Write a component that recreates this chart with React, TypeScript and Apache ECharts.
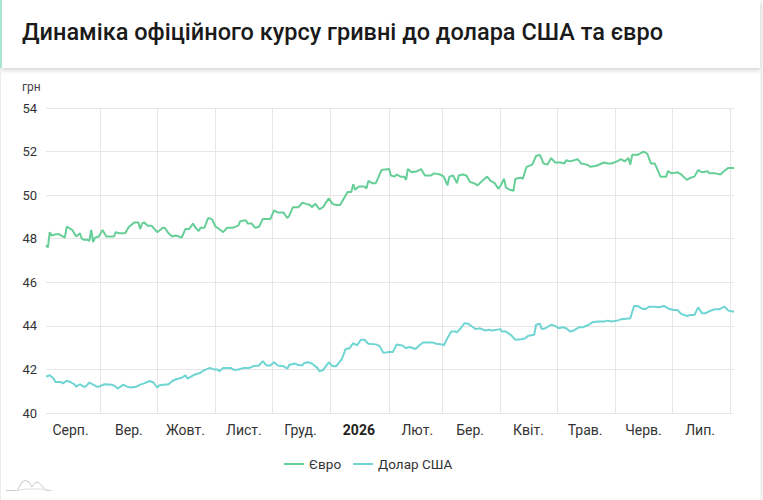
import React, { useEffect, useRef } from "react";
import * as echarts from "echarts";

const TITLE = "Динаміка офіційного курсу гривні до долара США та євро";
const UNIT = "грн";
const SERIES_NAMES = ["Євро", "Долар США"];
const BASE_DATE = Date.UTC(2025, 7, 1); // 1 Aug 2025
const DAY = 86400000;

// day offsets from BASE_DATE and values (UAH)
const eurDays = [2, 3, 4, 5, 7, 9, 12, 13, 15, 16, 18, 20, 21, 22, 24, 25, 26, 27, 28, 30, 32, 34, 36, 38, 39, 41, 44, 46, 49, 51, 52, 53, 54, 56, 58, 60, 61, 64, 65, 67, 69, 71, 74, 76, 78, 80, 81, 83, 84, 86, 88, 90, 92, 93, 96, 98, 101, 104, 105, 108, 109, 111, 113, 115, 117, 119, 121, 123, 125, 128, 130, 131, 133, 136, 138, 140, 142, 143, 145, 147, 149, 152, 154, 156, 158, 161, 162, 164, 165, 166, 168, 171, 172, 173, 175, 177, 180, 184, 185, 187, 188, 190, 192, 193, 194, 196, 199, 201, 203, 206, 208, 211, 213, 215, 216, 218, 220, 221, 223, 225, 227, 229, 231, 234, 236, 238, 240, 242, 243, 245, 246, 248, 250, 251, 254, 255, 256, 257, 260, 262, 264, 266, 268, 270, 272, 275, 277, 278, 280, 284, 286, 289, 291, 294, 298, 300, 302, 305, 307, 309, 311, 312, 313, 316, 317, 319, 321, 323, 325, 328, 331, 332, 334, 337, 339, 342, 344, 346, 348, 350, 353, 354, 357, 360, 361, 364, 367];
const eurValues = [47.7, 47.6, 48.3, 48.15, 48.2, 48.2, 48.05, 48.55, 48.45, 48.4, 48.1, 48.25, 48.0, 47.95, 47.95, 47.9, 48.4, 47.85, 48.05, 48.1, 48.4, 48.1, 48.1, 48.1, 48.3, 48.25, 48.25, 48.55, 48.75, 48.75, 48.45, 48.7, 48.75, 48.6, 48.6, 48.4, 48.3, 48.5, 48.5, 48.25, 48.1, 48.15, 48.05, 48.45, 48.45, 48.7, 48.55, 48.35, 48.5, 48.5, 48.95, 48.9, 48.55, 48.5, 48.3, 48.5, 48.5, 48.6, 48.8, 48.85, 48.7, 48.7, 48.5, 48.55, 48.9, 48.9, 48.9, 49.3, 49.2, 49.2, 48.95, 49.05, 49.45, 49.45, 49.65, 49.6, 49.55, 49.45, 49.6, 49.35, 49.45, 49.85, 49.6, 49.55, 49.55, 50.0, 50.15, 50.15, 50.5, 50.25, 50.4, 50.4, 50.3, 50.65, 50.55, 50.55, 51.15, 51.2, 50.9, 50.85, 50.95, 50.85, 50.85, 50.7, 51.2, 51.05, 51.1, 51.2, 50.9, 50.9, 51.0, 50.95, 50.85, 50.45, 50.85, 50.9, 50.55, 50.9, 50.95, 50.9, 50.6, 50.55, 50.45, 50.7, 50.85, 50.65, 50.55, 50.3, 50.4, 50.75, 50.35, 50.25, 50.2, 50.75, 50.8, 50.75, 51.05, 51.3, 51.4, 51.8, 51.85, 51.45, 51.4, 51.7, 51.5, 51.5, 51.45, 51.6, 51.55, 51.65, 51.45, 51.4, 51.3, 51.35, 51.5, 51.45, 51.45, 51.55, 51.65, 51.55, 51.7, 51.4, 51.85, 51.85, 51.9, 52.0, 51.9, 51.45, 51.45, 50.85, 50.85, 51.1, 51.0, 51.05, 50.95, 50.7, 50.8, 50.85, 51.15, 51.05, 51.1, 51.0, 51.0, 50.95, 51.05, 51.25, 51.25];

const usdDays = [2, 4, 6, 7, 10, 11, 13, 15, 17, 18, 20, 22, 23, 25, 27, 29, 30, 33, 37, 39, 40, 43, 45, 47, 50, 52, 54, 57, 59, 61, 62, 64, 67, 69, 71, 74, 76, 77, 79, 81, 84, 85, 87, 89, 91, 93, 94, 96, 100, 102, 104, 107, 110, 112, 115, 117, 119, 121, 123, 125, 128, 130, 131, 134, 136, 138, 139, 141, 143, 146, 147, 149, 152, 154, 156, 159, 161, 163, 165, 167, 169, 171, 173, 177, 179, 181, 184, 186, 188, 191, 193, 195, 198, 200, 202, 207, 209, 212, 213, 215, 217, 219, 220, 222, 224, 226, 228, 230, 232, 235, 237, 239, 243, 244, 246, 249, 251, 254, 256, 258, 261, 262, 264, 265, 267, 270, 272, 274, 276, 278, 280, 282, 285, 287, 290, 292, 295, 298, 300, 302, 305, 307, 310, 312, 314, 316, 318, 320, 322, 325, 327, 330, 332, 335, 337, 339, 342, 344, 346, 348, 350, 352, 354, 357, 359, 362, 364, 367];
const usdValues = [41.67, 41.73, 41.58, 41.42, 41.42, 41.36, 41.48, 41.42, 41.32, 41.21, 41.32, 41.21, 41.21, 41.4, 41.3, 41.21, 41.21, 41.32, 41.3, 41.21, 41.12, 41.3, 41.21, 41.17, 41.21, 41.3, 41.36, 41.47, 41.4, 41.17, 41.26, 41.3, 41.32, 41.47, 41.55, 41.62, 41.73, 41.58, 41.67, 41.77, 41.85, 41.92, 42.0, 42.07, 42.0, 42.0, 41.92, 42.07, 42.07, 41.97, 42.0, 42.07, 42.07, 42.15, 42.18, 42.38, 42.18, 42.18, 42.33, 42.18, 42.15, 42.03, 42.2, 42.27, 42.2, 42.18, 42.3, 42.33, 42.27, 42.07, 41.92, 41.97, 42.33, 42.15, 42.15, 42.48, 42.94, 42.97, 43.21, 43.1, 43.36, 43.36, 43.18, 43.15, 43.07, 42.76, 42.8, 42.8, 43.14, 43.1, 42.98, 43.03, 42.94, 43.1, 43.24, 43.24, 43.18, 43.15, 43.1, 43.44, 43.74, 43.74, 43.7, 43.89, 44.12, 44.1, 43.97, 43.85, 43.89, 43.79, 43.82, 43.79, 43.85, 43.74, 43.74, 43.55, 43.36, 43.39, 43.42, 43.55, 43.59, 44.05, 44.1, 43.85, 43.89, 44.05, 44.0, 43.89, 43.94, 43.89, 43.74, 43.79, 43.94, 43.94, 44.05, 44.17, 44.2, 44.2, 44.24, 44.2, 44.24, 44.3, 44.33, 44.35, 44.91, 44.91, 44.8, 44.76, 44.88, 44.88, 44.85, 44.91, 44.8, 44.73, 44.73, 44.55, 44.45, 44.5, 44.5, 44.85, 44.58, 44.58, 44.68, 44.76, 44.76, 44.88, 44.7, 44.65];

// month boundaries (year, month index) for grid lines and labels
const monthStarts: [number, number][] = [
  [2025, 8], [2025, 9], [2025, 10], [2025, 11], [2026, 0], [2026, 1],
  [2026, 2], [2026, 3], [2026, 4], [2026, 5], [2026, 6], [2026, 7],
];
const monthLabelDates: [number, number][] = [
  [2025, 7], [2025, 8], [2025, 9], [2025, 10], [2025, 11], [2026, 0],
  [2026, 1], [2026, 2], [2026, 3], [2026, 4], [2026, 5], [2026, 6],
];
const monthLabels = ["Серп.", "Вер.", "Жовт.", "Лист.", "Груд.", "2026", "Лют.", "Бер.", "Квіт.", "Трав.", "Черв.", "Лип."];

const X_MIN_DAY = 2;
const X_MAX_DAY = 367;
const Y_MIN = 40;
const Y_MAX = 54;
const Y_STEP = 2;

const COLORS = ["#66cf98", "#6fd5d3"];

export default function App() {
  const ref = useRef<HTMLDivElement>(null);
  useEffect(() => {
    if (!ref.current) return;
    const chart = echarts.init(ref.current, undefined, { renderer: "svg" });
    const dayOf = (y: number, m: number, d: number) => Math.round((Date.UTC(y, m, d) - BASE_DATE) / DAY);
    const eurData = eurDays.map((d, i) => [d, eurValues[i]]);
    const usdData = usdDays.map((d, i) => [d, usdValues[i]]);
    const tickVals = monthStarts.map(([y, m]) => dayOf(y, m, 1));
    const labelVals = monthLabelDates.map(([y, m]) => dayOf(y, m, 16));

    chart.setOption({
      animation: false,
      backgroundColor: "#ffffff",
      color: COLORS,
      graphic: [
        {
          type: "rect",
          shape: { x: 0, y: 0, width: 760, height: 68 },
          style: { fill: "#ffffff", shadowBlur: 5, shadowColor: "rgba(0,0,0,0.18)", shadowOffsetY: 2, shadowOffsetX: 1 },
          z: 1,
        },
        { type: "rect", shape: { x: 0, y: 0, width: 2, height: 68 }, style: { fill: "#a8e6cf" }, z: 2 },
        { type: "line", shape: { x1: 0.5, y1: 68, x2: 0.5, y2: 500 }, style: { stroke: "#ececec", lineWidth: 1 }, z: 1 },
        { type: "line", shape: { x1: 761.5, y1: 68, x2: 761.5, y2: 500 }, style: { stroke: "#ececec", lineWidth: 2 }, z: 1 },
        {
          type: "text",
          x: 22,
          y: 32,
          style: {
            text: TITLE,
            font: "500 23.5px Roboto",
            fill: "#1a1a1a",
            verticalAlign: "middle",
          },
          z: 3,
        },
        {
          type: "text",
          x: 22,
          y: 87,
          style: { text: UNIT, font: "12px Roboto", fill: "#444", verticalAlign: "middle" },
        },
        {
          type: "polyline",
          shape: {
            points: [[6, 490.5], [17, 490.5], [22, 482], [25, 480.5], [29, 482], [32, 487], [35, 482.5], [38, 482], [42, 486], [46, 490.5], [52, 490.5]],
          },
          style: { stroke: "#cccccc", lineWidth: 1, fill: null },
        },
        {
          type: "polyline",
          shape: { points: [[16, 490.5], [27, 489], [40, 489], [52, 490.5]] },
          style: { stroke: "#dddddd", lineWidth: 1, fill: null },
        },
      ],
      grid: { left: 46, right: 29, top: 108, bottom: 87, containLabel: false },
      legend: {
        left: 279,
        top: 452,
        icon: "rect",
        itemWidth: 20,
        itemHeight: 2,
        itemGap: 12,
        textStyle: { fontFamily: "Roboto", fontSize: 13.5, color: "#333" },
        data: SERIES_NAMES,
      },
      xAxis: {
        type: "value",
        min: X_MIN_DAY,
        max: X_MAX_DAY,
        axisLine: { show: false },
        axisTick: { show: false, customValues: tickVals },
        splitLine: { show: true, lineStyle: { color: "#e6e6e6", width: 1 } },
        axisLabel: {
          customValues: labelVals,
          margin: 10,
          fontFamily: "Roboto",
          fontSize: 14,
          color: "#333",
          formatter: (v: number) => {
            const idx = labelVals.indexOf(Math.round(v));
            const t = idx >= 0 ? monthLabels[idx] : "";
            return /^\d+$/.test(t) ? `{b|${t}}` : t;
          },
          rich: { b: { fontWeight: "bold", fontFamily: "Roboto", fontSize: 14, color: "#222" } },
        },
      },
      yAxis: {
        type: "value",
        min: Y_MIN,
        max: Y_MAX,
        interval: Y_STEP,
        axisLine: { show: false },
        axisTick: { show: false },
        splitLine: { lineStyle: { color: "#e6e6e6", width: 1 } },
        axisLabel: { fontFamily: "Roboto", fontSize: 13, color: "#333", margin: 9 },
      },
      series: [
        {
          name: SERIES_NAMES[0],
          type: "line",
          data: eurData,
          showSymbol: false,
          lineStyle: { width: 2, color: COLORS[0] },
          itemStyle: { color: COLORS[0] },
        },
        {
          name: SERIES_NAMES[1],
          type: "line",
          data: usdData,
          showSymbol: false,
          lineStyle: { width: 2, color: COLORS[1] },
          itemStyle: { color: COLORS[1] },
        },
      ],
    });
    return () => chart.dispose();
  }, []);
  return (
    <div
      ref={ref}
      style={{ position: "fixed", left: 0, top: 0, width: 763, height: 500, background: "#fff" }}
    />
  );
}
